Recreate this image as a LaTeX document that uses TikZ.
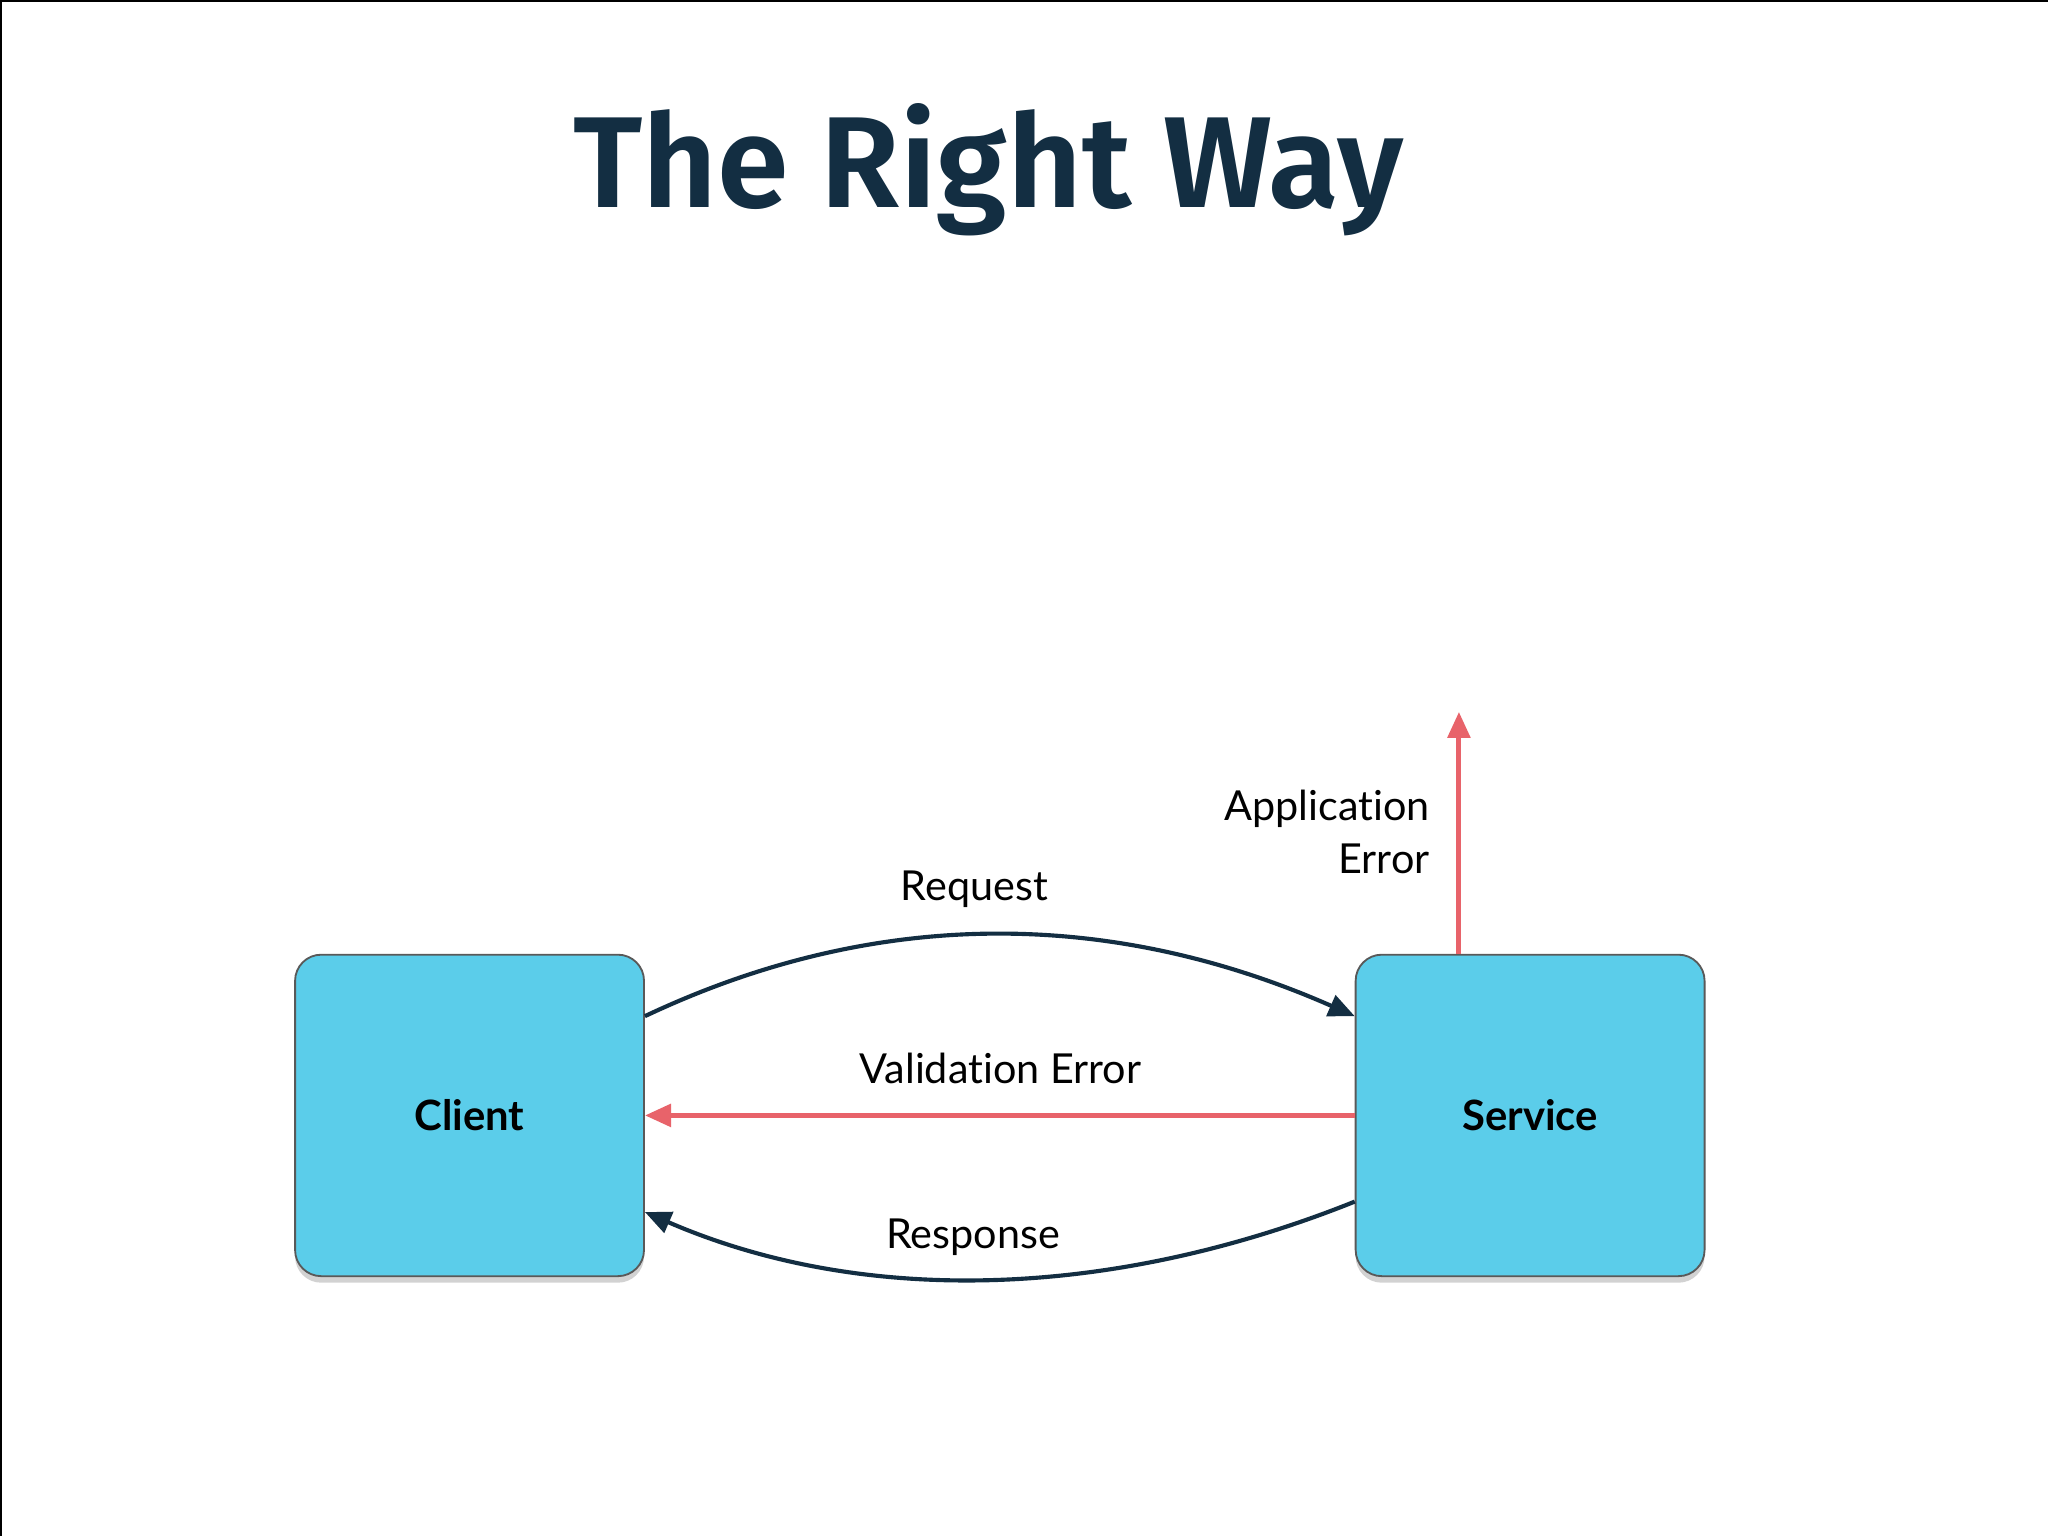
\documentclass[tikz,border=0pt]{standalone}
\usepackage{fontspec}
\setmainfont{Lato}[Ligatures=NoCommon]
\newfontfamily\titlefont{Fira Sans SemiBold}
\usetikzlibrary{arrows.meta,shadows}
\definecolor{navy}{HTML}{132E42}
\definecolor{boxblue}{HTML}{5BCDEA}
\definecolor{errred}{HTML}{E8636A}
\begin{document}
\begin{tikzpicture}[x=0.01cm,y=-0.01cm,
  box/.style={draw=gray!70!black,line width=0.4pt,fill=boxblue,rounded corners=0.2cm,minimum width=2.67cm,minimum height=2.46cm,font=\fontsize{9.1}{12}\selectfont\bfseries,drop shadow={shadow xshift=0pt,shadow yshift=-0.05cm,opacity=0.35}},
  lbl/.style={font=\fontsize{9}{11.6}\selectfont,text=black},
  navyarr/.style={draw=navy,line width=0.9pt,-{Triangle[length=0.2cm,width=0.17cm]}},
  redarr/.style={draw=errred,line width=1.1pt,-{Triangle[length=0.2cm,width=0.17cm]}}]
\useasboundingbox (0,0) rectangle (1568,1176);
\fill[white] (0,0) rectangle (1568,1176);
\draw[black,line width=0.8pt] (0,1176) -- (0,0) -- (1568,0);
\node[font=\titlefont\fontsize{28.2}{34}\selectfont,text=navy] (title) at (757,130) {The Right Way};
\node[box] (client) at (359.5,854) {Client};
\node[box] (service) at (1171.5,854) {Service};
\coordinate (apptop) at (1117,545);
\draw[navyarr] (client.east|-0,778) .. controls (680,690) and (860,700) .. (service.west|-0,778);
\draw[redarr] (service.west) -- (client.east);
\draw[navyarr] (service.west|-0,920) .. controls (850,995) and (660,1000) .. (client.east|-0,928);
\draw[redarr] (service.north-|apptop) -- (apptop);
\node[lbl] (lreq) at (746,681) {Request};
\node[lbl] (lval) at (766,818) {Validation Error};
\node[lbl] (lresp) at (745,947) {Response};
\node[lbl,anchor=east,align=right] (lapp) at (1107,637) {Application\\Error};
\end{tikzpicture}
\end{document}
